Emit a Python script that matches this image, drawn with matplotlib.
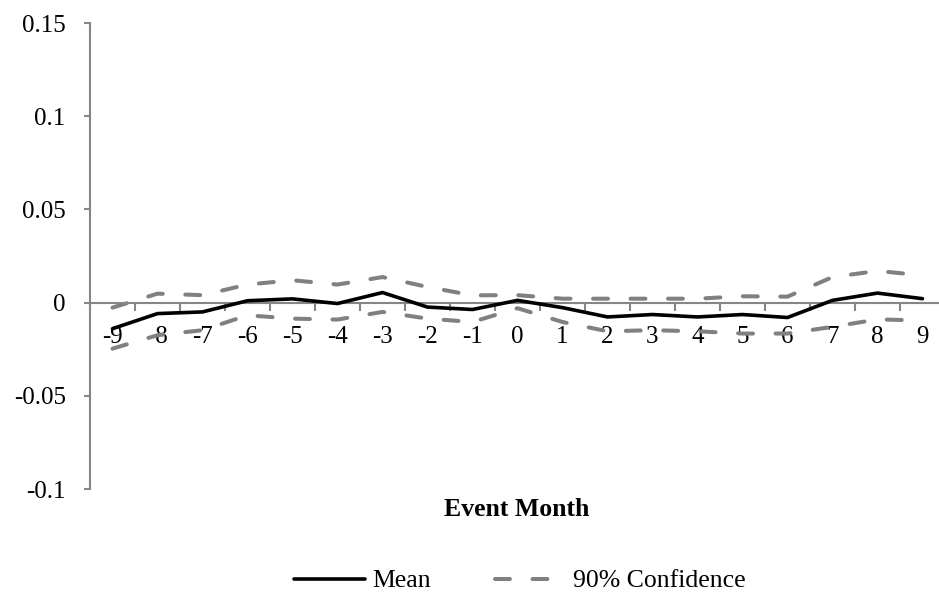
import matplotlib.pyplot as plt
import numpy as np

plt.rcParams['font.family'] = ['Liberation Serif', 'DejaVu Serif']

months = [-9, -8, -7, -6, -5, -4, -3, -2, -1, 0, 1, 2, 3, 4, 5, 6, 7, 8, 9]
mean = [-0.014, -0.0059, -0.005, 0.001, 0.002, -0.0005, 0.0054, -0.0024, -0.0037, 0.0012,
        -0.0027, -0.0077, -0.0064, -0.0077, -0.0064, -0.008, 0.0012, 0.0051, 0.0021]
upper = [-0.0027, 0.0048, 0.0040, 0.0097, 0.012, 0.0097, 0.0137, 0.0084, 0.0039, 0.004,
         0.0021, 0.0021, 0.0021, 0.0021, 0.0034, 0.0032, 0.0137, 0.017, 0.0146]
lower = [-0.0247, -0.0175, -0.0148, -0.0068, -0.0086, -0.0091, -0.005, -0.0086, -0.0104, -0.003,
         -0.0104, -0.0154, -0.0148, -0.0154, -0.0166, -0.0166, -0.013, -0.009, -0.0096]

axis_grey = '#868686'
dash_grey = '#808080'
tick_fs = 18
label_fs = 18.5

fig = plt.figure(figsize=(9.39, 5.95), dpi=100)
ax = fig.add_axes([90 / 939, 1 - 489 / 595, 855 / 939, 466 / 595])

x = np.arange(len(months))
ax.plot(x, mean, color='black', lw=2.6, label='Mean', solid_capstyle='round',
        solid_joinstyle='round', zorder=3)
ax.plot(x, upper, color=dash_grey, lw=2.9, dashes=(3.7, 5.6), dash_capstyle='round',
        label='90% Confidence', zorder=2)
ax.plot(x, lower, color=dash_grey, lw=2.9, dashes=(3.7, 5.6), dash_capstyle='round', zorder=2)

ax.set_xlim(-0.5, len(months) - 0.5)
ax.set_ylim(-0.1, 0.15)
ax.set_yticks([-0.1, -0.05, 0, 0.05, 0.1, 0.15])
ax.set_yticklabels(['-0.1', '-0.05', '0', '0.05', '0.1', '0.15'])
ax.set_xticks(x)
ax.set_xticklabels([str(m) for m in months])
ax.set_xticks(np.arange(-0.5, len(months)), minor=True)

for s in ['top', 'right']:
    ax.spines[s].set_visible(False)
ax.spines['bottom'].set_position(('data', 0))
for s in ['bottom', 'left']:
    ax.spines[s].set_color(axis_grey)
    ax.spines[s].set_linewidth(1.5)

ax.tick_params(axis='y', length=4.5, width=1.5, color=axis_grey, pad=13, labelsize=tick_fs)
ax.tick_params(axis='x', which='major', length=0, pad=16.5, labelsize=tick_fs)
ax.tick_params(axis='x', which='minor', length=6, width=1.5, color=axis_grey, direction='out')

fig.text(517 / 939, 1 - 510 / 595, 'Event Month', ha='center', va='center',
         fontsize=label_fs, fontweight='bold')

fig.legend(loc='center', bbox_to_anchor=(520 / 939, 1 - 581 / 595), ncol=2, frameon=False,
           fontsize=label_fs, handlelength=2.75, handletextpad=0.3, columnspacing=2.5)

fig.savefig('out.png', dpi=100)
